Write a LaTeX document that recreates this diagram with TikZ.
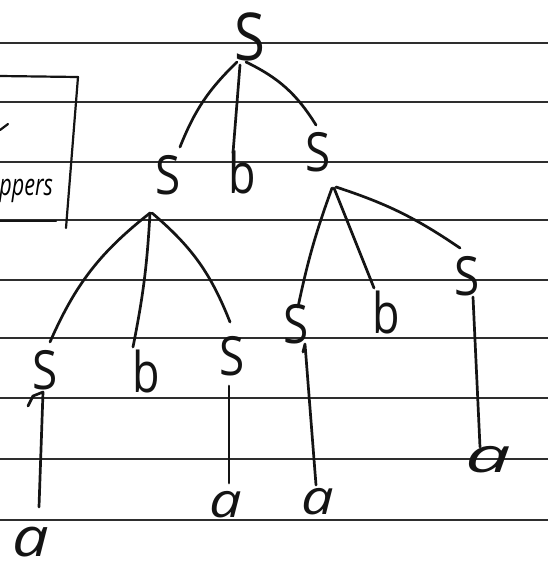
\documentclass[tikz,border=0pt]{standalone}
\usepackage{fontspec}
\setsansfont{Open Sans}
\begin{document}
\begin{tikzpicture}[x=1pt,y=-1pt,
  ink/.style={line width=2.7pt, line cap=round, line join=round, black!92},
  ruling/.style={line width=2.1pt, black!82},
  sym/.style={font=\sffamily\fontsize{54}{54}\selectfont, inner sep=0pt, xscale=0.85, black!92},
  term/.style={font=\sffamily\fontsize{56}{56}\selectfont, inner sep=0pt, xscale=0.8, black!92},
  leaf/.style={font=\sffamily\itshape\fontsize{48}{48}\selectfont, inner sep=0pt, xscale=1.2, black!92}]
% page
\fill[white] (0,0) rectangle (548,574);
\clip (0,0) rectangle (548,574);

% ruled paper
\foreach \yy in {43,102,162,220,280,338,398,459,520}
  \draw[ruling] (0,\yy) -- (548,\yy);

% boxed note at the left margin
\draw[ink, line width=2.2pt] (0,76) -- (78,77) -- (66,228);
\draw[ink, line width=2.2pt] (0,221) -- (56,221);
\draw[ink, line width=2.2pt] (0,130) -- (8,124);
\node[font=\sffamily\itshape\fontsize{30}{30}\selectfont, inner sep=0pt, xscale=0.72,
      anchor=base east] (note) at (53,195) {ppers};

% derivation tree
\node[sym, font=\sffamily\fontsize{66}{66}\selectfont] (r) at (250,37) {S};
\node[sym] (l1) at (168,175) {S};
\node[term] (b1) at (242,172) {b};
\node[sym] (r1) at (318,152) {S};

\node[sym] (ls) at (45,370) {S};
\node[term] (lb) at (146,371) {b};
\node[sym] (lr) at (232,356) {S};

\node[sym] (rs) at (296,324) {S};
\node[term] (rb) at (386,312) {b};
\node[sym] (rr) at (467,276) {S};

\node[leaf, font=\sffamily\itshape\fontsize{54}{54}\selectfont] (la) at (31,542) {a};
\node[leaf] (lra) at (226,505) {a};
\node[leaf] (rsa) at (318,502) {a};
\node[leaf, xscale=1.4] (rra) at (488,460) {a};

% branches from the root
\draw[ink] ([shift={(-13,25)}]r.center) to[bend right=12] ([shift={(12,-28)}]l1.center);
\draw[ink] ([shift={(-10,28)}]r.center) -- ([shift={(-9,-19)}]b1.center);
\draw[ink] ([shift={(-4,25)}]r.center) to[bend left=16] ([shift={(-2,-27)}]r1.center);

% branches of the left S
\draw[ink] ([shift={(-18,38)}]l1.center) to[bend right=14] ([shift={(5,-28)}]ls.center);
\draw[ink] ([shift={(-18,38)}]l1.center) to[bend left=4] ([shift={(-13,-24)}]lb.center);
\draw[ink] ([shift={(-16,38)}]l1.center) to[bend left=14] ([shift={(-2,-34)}]lr.center);

% branches of the right S
\draw[ink] ([shift={(14,36)}]r1.center) to[bend right=4] ([shift={(2,-17)}]rs.center);
\draw[ink] ([shift={(16,36)}]r1.center) -- ([shift={(-12,-24)}]rb.center);
\draw[ink] ([shift={(18,35)}]r1.center) to[bend left=8] ([shift={(-7,-28)}]rr.center);

% unit productions down to the leaves
\draw[ink] ([shift={(-17,36)}]ls.center) -- ([shift={(-12,26)}]ls.center)
           -- ([shift={(-2,22)}]ls.center) -- ([shift={(8,-35)}]la.center);
\draw[ink] ([shift={(-3,30)}]lr.center) -- ([shift={(3,-22)}]lra.center);
\draw[ink] ([shift={(7,28)}]rs.center) -- ([shift={(9,20)}]rs.center)
           -- ([shift={(-2,-17)}]rsa.center);
\draw[ink] ([shift={(6,21)}]rr.center) -- ([shift={(-8,-13)}]rra.center);
\end{tikzpicture}
\end{document}
